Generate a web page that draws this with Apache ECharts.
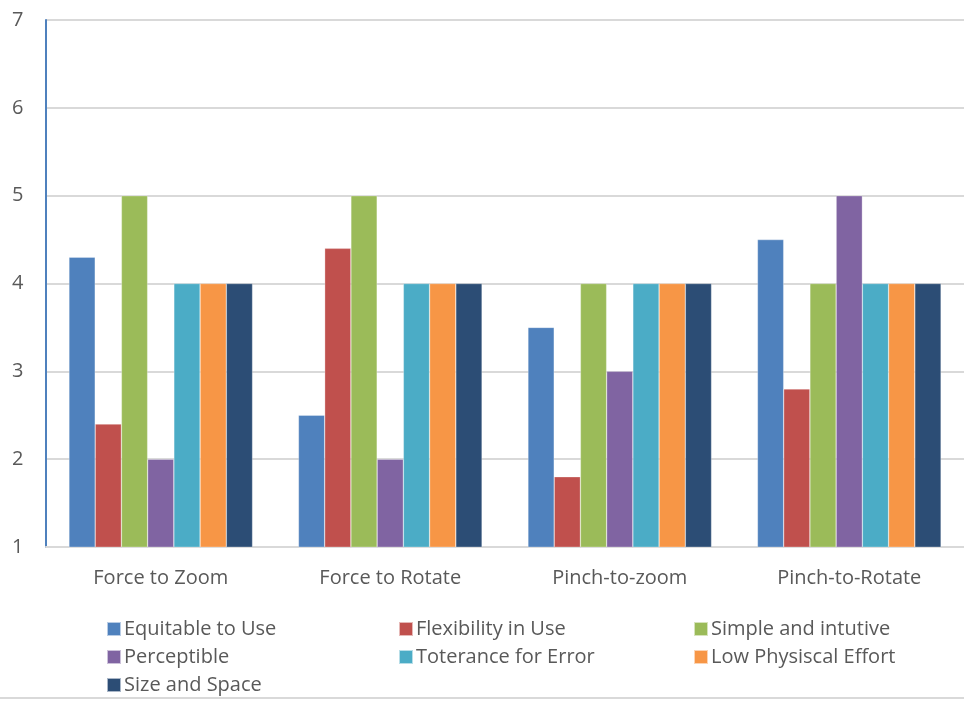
<!DOCTYPE html>
<html>
<head>
<meta charset="utf-8">
<script src="https://cdn.jsdelivr.net/npm/echarts@6/dist/echarts.min.js"></script>
<style>html,body{margin:0;padding:0;background:#fff;}#c{width:964px;height:702px;}</style>
</head>
<body>
<div id="c"></div>
<script>
const categories = ["Force to Zoom", "Force to Rotate", "Pinch-to-zoom", "Pinch-to-Rotate"];
const seriesNames = ["Equitable to Use", "Flexibility in Use", "Simple and intutive", "Perceptible", "Toterance for Error", "Low Physiscal Effort", "Size and Space"];
const equitable = [4.3, 2.5, 3.5, 4.5];
const flexibility = [2.4, 4.4, 1.8, 2.8];
const simple = [5, 5, 4, 4];
const perceptible = [2, 2, 3, 5];
const tolerance = [4, 4, 4, 4];
const effort = [4, 4, 4, 4];
const sizeSpace = [4, 4, 4, 4];
const yTicks = [1, 2, 3, 4, 5, 6, 7];

const colors = ["#4F81BD", "#C0504D", "#9BBB59", "#8064A2", "#4BACC6", "#F79646", "#2C4D75"];
const allValues = [equitable, flexibility, simple, perceptible, tolerance, effort, sizeSpace];
const font = "Open Sans";
const textColor = "#595959";

const chart = echarts.init(document.getElementById('c'), null, {renderer: 'canvas'});
const legendBase = {
  orient: 'vertical', itemWidth: 14, itemHeight: 14, itemGap: 8, icon: 'rect',
  textStyle: {fontFamily: font, fontSize: 20, color: textColor, padding: [0,0,0,-2]},
  top: 614, selectedMode: false
};
chart.setOption({
  animation: false,
  color: colors,
  grid: {left: 46, top: 20, width: 924, bottom: 155, containLabel: false},
  legend: [
    Object.assign({}, legendBase, {left: 101, data: [seriesNames[0], seriesNames[3], seriesNames[6]]}),
    Object.assign({}, legendBase, {left: 393, data: [seriesNames[1], seriesNames[4]]}),
    Object.assign({}, legendBase, {left: 688, data: [seriesNames[2], seriesNames[5]]})
  ],
  xAxis: {
    type: 'category', data: categories,
    axisLine: {lineStyle: {color: '#D9D9D9', width: 2}},
    axisTick: {show: false},
    axisLabel: {fontFamily: font, fontSize: 20, color: textColor, margin: 21}
  },
  yAxis: {
    type: 'value', min: yTicks[0], max: yTicks[yTicks.length-1], interval: 1,
    axisLine: {show: true, lineStyle: {color: '#4F81BD', width: 2}},
    axisTick: {show: false},
    splitLine: {lineStyle: {color: '#D9D9D9', width: 2}},
    axisLabel: {fontFamily: font, fontSize: 20, color: textColor, margin: 34, align: 'left'}
  },
  graphic: [{type: 'line', shape: {x1: 0, y1: 698, x2: 964, y2: 698}, style: {stroke: '#D9D9D9', lineWidth: 2}}],
  series: seriesNames.map((n, i) => ({
    name: n, type: 'bar', data: allValues[i],
    barGap: '0%', barCategoryGap: '20%',
    itemStyle: {borderColor: 'rgba(255,255,255,0.6)', borderWidth: 0.5}
  }))
});
</script>
</body>
</html>
